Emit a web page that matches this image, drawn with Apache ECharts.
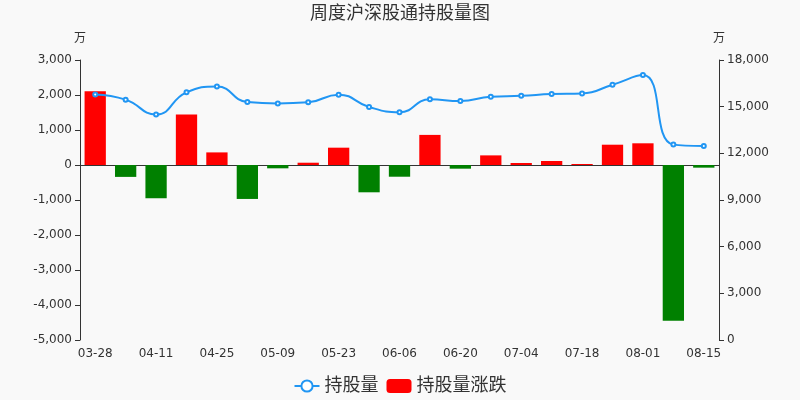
<!DOCTYPE html>
<html>
<head>
<meta charset="utf-8">
<script src="https://cdn.jsdelivr.net/npm/echarts@6/dist/echarts.min.js"></script>
<style>
  html, body { margin: 0; padding: 0; background: #f9f9f9; }
  #main { width: 800px; height: 400px; }
</style>
</head>
<body>
<div id="main"></div>
<script>
var chart = echarts.init(document.getElementById('main'));

// 周度日期
var dates = ['03-28', '04-04', '04-11', '04-18', '04-25', '05-02', '05-09', '05-16', '05-23', '05-30', '06-06',
  '06-13', '06-20', '06-27', '07-04', '07-11', '07-18', '07-25', '08-01', '08-08', '08-15'];
// 持股量(万)
var holdings = [15790, 15450, 14490, 15920, 16290, 15300, 15210, 15280, 15770, 14980, 14640,
  15470, 15360, 15640, 15700, 15810, 15850, 16410, 17030, 12560, 12470];
// 持股量涨跌(万)
var changes = [2110, -340, -950, 1440, 360, -970, -95, 65, 495, -780, -335,
  860, -105, 275, 57, 114, 29, 580, 620, -4450, -76];

var option = {
  backgroundColor: '#f9f9f9',
  textStyle: { fontFamily: "'DejaVu Sans', 'Noto Sans CJK SC', sans-serif" },
  title: {
    text: '周度沪深股通持股量图',
    left: 'center',
    top: 0,
    textStyle: { fontSize: 18, fontWeight: 'normal', color: '#333' }
  },
  legend: {
    bottom: 0,
    itemWidth: 25,
    itemHeight: 14,
    itemGap: 8,
    textStyle: { fontSize: 18, color: '#333' },
    data: [
      { name: '持股量' },
      { name: '持股量涨跌', itemStyle: { color: '#ff0000' } }
    ]
  },
  grid: { left: 80, right: 81, top: 60, bottom: 60 },
  xAxis: [
    {
      type: 'category',
      data: dates,
      axisLine: { show: false },
      axisTick: { show: false },
      axisLabel: { interval: 1, color: '#333', fontSize: 12 }
    },
    {
      type: 'category',
      data: dates,
      position: 'bottom',
      axisLine: { onZero: true, onZeroAxisIndex: 0, lineStyle: { color: '#333' } },
      axisTick: { interval: 1, lineStyle: { color: '#333' } },
      axisLabel: { show: false }
    }
  ],
  yAxis: [
    {
      type: 'value',
      name: '万',
      min: -5000,
      max: 3000,
      interval: 1000,
      nameTextStyle: { color: '#333' },
      axisLine: { show: true, lineStyle: { color: '#333' } },
      axisTick: { show: true },
      axisLabel: { color: '#333' },
      splitLine: { show: false }
    },
    {
      type: 'value',
      name: '万',
      min: 0,
      max: 18000,
      interval: 3000,
      nameTextStyle: { color: '#333' },
      axisLine: { show: true, lineStyle: { color: '#333' } },
      axisTick: { show: true },
      axisLabel: { color: '#333' },
      splitLine: { show: false }
    }
  ],
  series: [
    {
      name: '持股量',
      type: 'line',
      yAxisIndex: 1,
      smooth: true,
      symbol: 'emptyCircle',
      symbolSize: 4,
      itemStyle: { color: '#2196f3' },
      lineStyle: { color: '#2196f3', width: 2 },
      data: holdings,
      z: 3
    },
    {
      name: '持股量涨跌',
      type: 'bar',
      yAxisIndex: 0,
      barWidth: '70%',
      itemStyle: {
        color: function (p) { return p.value >= 0 ? '#ff0000' : '#008000'; }
      },
      data: changes,
      z: 2
    }
  ]
};

chart.setOption(option);
</script>
</body>
</html>
